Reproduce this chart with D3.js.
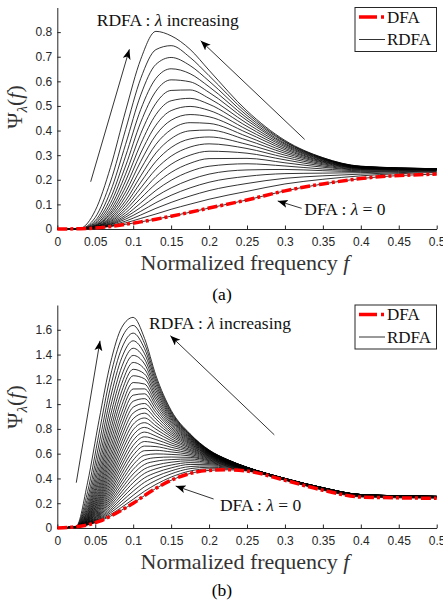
<!DOCTYPE html>
<html>
<head>
<meta charset="utf-8">
<script src="https://cdn.jsdelivr.net/npm/d3@7"></script>
<style>
body { margin: 0; background: #fff; }
</style>
</head>
<body>
<script>
// ---- Werte (a) ----
var fA = [0, 0.03, 0.05, 0.07, 0.09, 0.11, 0.13, 0.15, 0.175, 0.2, 0.25, 0.3, 0.35, 0.4, 0.5];
var dfaA = [0, 0.001, 0.004, 0.010, 0.019, 0.029, 0.040, 0.052, 0.068, 0.085, 0.118, 0.155, 0.183, 0.205, 0.223];
// RDFA, lambda steigend (unterste zuerst)
var rdfaA = [
  [0, 0.001, 0.004, 0.012, 0.025, 0.043, 0.061, 0.080, 0.101, 0.121, 0.153, 0.183, 0.202, 0.216, 0.230],
  [0, 0.001, 0.005, 0.014, 0.032, 0.057, 0.084, 0.108, 0.134, 0.156, 0.185, 0.206, 0.216, 0.223, 0.234],
  [0, 0.001, 0.005, 0.017, 0.040, 0.072, 0.107, 0.137, 0.167, 0.190, 0.214, 0.225, 0.227, 0.229, 0.236],
  [0, 0.001, 0.005, 0.019, 0.048, 0.088, 0.132, 0.167, 0.200, 0.223, 0.240, 0.242, 0.237, 0.233, 0.238],
  [0, 0.001, 0.006, 0.022, 0.056, 0.106, 0.157, 0.198, 0.234, 0.255, 0.265, 0.256, 0.244, 0.237, 0.239],
  [0, 0.001, 0.006, 0.025, 0.066, 0.125, 0.184, 0.230, 0.267, 0.286, 0.287, 0.269, 0.251, 0.240, 0.240],
  [0, 0.001, 0.007, 0.029, 0.077, 0.145, 0.213, 0.263, 0.300, 0.316, 0.308, 0.281, 0.256, 0.242, 0.241],
  [0, 0.001, 0.008, 0.033, 0.088, 0.167, 0.243, 0.296, 0.333, 0.346, 0.327, 0.291, 0.261, 0.244, 0.242],
  [0, 0.001, 0.008, 0.038, 0.101, 0.190, 0.275, 0.331, 0.366, 0.374, 0.344, 0.300, 0.265, 0.246, 0.242],
  [0, 0.001, 0.009, 0.043, 0.115, 0.216, 0.309, 0.367, 0.399, 0.402, 0.361, 0.308, 0.269, 0.247, 0.243],
  [0, 0.001, 0.010, 0.049, 0.132, 0.244, 0.344, 0.404, 0.432, 0.429, 0.376, 0.315, 0.272, 0.248, 0.243],
  [0, 0.001, 0.012, 0.057, 0.150, 0.275, 0.382, 0.442, 0.465, 0.456, 0.391, 0.322, 0.275, 0.249, 0.243],
  [0, 0.001, 0.013, 0.065, 0.171, 0.309, 0.422, 0.481, 0.498, 0.482, 0.404, 0.328, 0.277, 0.250, 0.244],
  [0, 0.001, 0.015, 0.075, 0.195, 0.346, 0.465, 0.521, 0.531, 0.507, 0.417, 0.334, 0.280, 0.251, 0.244],
  [0, 0.001, 0.018, 0.088, 0.223, 0.388, 0.511, 0.563, 0.565, 0.531, 0.429, 0.339, 0.282, 0.252, 0.244],
  [0, 0.001, 0.022, 0.104, 0.256, 0.434, 0.560, 0.606, 0.598, 0.555, 0.441, 0.344, 0.284, 0.253, 0.244],
  [0, 0.001, 0.027, 0.124, 0.296, 0.486, 0.612, 0.651, 0.631, 0.578, 0.451, 0.348, 0.286, 0.253, 0.245],
  [0, 0.002, 0.034, 0.152, 0.344, 0.545, 0.669, 0.697, 0.664, 0.601, 0.461, 0.353, 0.287, 0.254, 0.245],
  [0, 0.002, 0.047, 0.191, 0.404, 0.612, 0.729, 0.745, 0.697, 0.623, 0.471, 0.356, 0.289, 0.255, 0.245],
  [0, 0.003, 0.075, 0.250, 0.480, 0.690, 0.803, 0.785, 0.730, 0.645, 0.480, 0.360, 0.290, 0.255, 0.245]
];

// ---- Werte (b) ----
var fB = [0, 0.025, 0.04, 0.055, 0.07, 0.085, 0.1, 0.115, 0.13, 0.15, 0.175, 0.2, 0.225, 0.25, 0.3, 0.35, 0.4, 0.5];
var dfaB = [0, 0.01, 0.025, 0.053, 0.095, 0.145, 0.2, 0.262, 0.32, 0.385, 0.44, 0.465, 0.47, 0.46, 0.385, 0.305, 0.25, 0.24];
var rdfaB = [
  [0, 0.01, 0.026, 0.058, 0.108, 0.168, 0.232, 0.297, 0.352, 0.411, 0.460, 0.478, 0.478, 0.464, 0.387, 0.309, 0.255, 0.245],
  [0, 0.01, 0.028, 0.064, 0.122, 0.191, 0.264, 0.333, 0.384, 0.437, 0.479, 0.490, 0.485, 0.467, 0.389, 0.312, 0.258, 0.248],
  [0, 0.01, 0.029, 0.070, 0.136, 0.216, 0.297, 0.369, 0.416, 0.461, 0.496, 0.501, 0.491, 0.469, 0.391, 0.314, 0.261, 0.250],
  [0, 0.01, 0.030, 0.076, 0.150, 0.241, 0.331, 0.405, 0.447, 0.485, 0.513, 0.511, 0.496, 0.471, 0.392, 0.316, 0.262, 0.251],
  [0, 0.01, 0.032, 0.083, 0.166, 0.266, 0.366, 0.441, 0.478, 0.508, 0.528, 0.520, 0.501, 0.473, 0.393, 0.317, 0.263, 0.251],
  [0, 0.01, 0.033, 0.089, 0.182, 0.293, 0.401, 0.477, 0.508, 0.531, 0.543, 0.528, 0.505, 0.475, 0.394, 0.318, 0.264, 0.252],
  [0, 0.01, 0.035, 0.097, 0.199, 0.321, 0.436, 0.513, 0.539, 0.552, 0.557, 0.536, 0.509, 0.476, 0.394, 0.319, 0.265, 0.252],
  [0, 0.01, 0.037, 0.105, 0.216, 0.349, 0.473, 0.550, 0.568, 0.573, 0.570, 0.543, 0.512, 0.477, 0.395, 0.320, 0.266, 0.253],
  [0, 0.01, 0.039, 0.113, 0.235, 0.379, 0.510, 0.587, 0.598, 0.594, 0.582, 0.549, 0.516, 0.479, 0.396, 0.320, 0.266, 0.253],
  [0, 0.01, 0.041, 0.121, 0.254, 0.409, 0.548, 0.624, 0.627, 0.614, 0.594, 0.555, 0.518, 0.480, 0.396, 0.321, 0.267, 0.253],
  [0, 0.01, 0.043, 0.131, 0.275, 0.441, 0.587, 0.661, 0.657, 0.633, 0.605, 0.561, 0.521, 0.481, 0.396, 0.321, 0.267, 0.254],
  [0, 0.01, 0.046, 0.141, 0.296, 0.474, 0.626, 0.698, 0.685, 0.652, 0.616, 0.566, 0.523, 0.481, 0.397, 0.322, 0.267, 0.254],
  [0, 0.01, 0.048, 0.151, 0.319, 0.508, 0.667, 0.736, 0.714, 0.670, 0.626, 0.571, 0.526, 0.482, 0.397, 0.322, 0.268, 0.254],
  [0, 0.01, 0.051, 0.163, 0.343, 0.543, 0.708, 0.774, 0.742, 0.687, 0.635, 0.576, 0.528, 0.483, 0.397, 0.322, 0.268, 0.254],
  [0, 0.01, 0.054, 0.175, 0.368, 0.580, 0.750, 0.812, 0.770, 0.705, 0.645, 0.580, 0.530, 0.484, 0.398, 0.323, 0.268, 0.254],
  [0, 0.01, 0.058, 0.188, 0.395, 0.618, 0.793, 0.850, 0.798, 0.721, 0.653, 0.584, 0.531, 0.484, 0.398, 0.323, 0.268, 0.254],
  [0, 0.01, 0.061, 0.202, 0.423, 0.658, 0.837, 0.888, 0.825, 0.738, 0.662, 0.588, 0.533, 0.485, 0.398, 0.323, 0.268, 0.254],
  [0, 0.01, 0.066, 0.218, 0.453, 0.699, 0.882, 0.927, 0.852, 0.754, 0.670, 0.592, 0.535, 0.485, 0.398, 0.323, 0.269, 0.254],
  [0, 0.01, 0.070, 0.234, 0.485, 0.743, 0.928, 0.966, 0.879, 0.769, 0.678, 0.595, 0.536, 0.486, 0.398, 0.323, 0.269, 0.254],
  [0, 0.01, 0.075, 0.253, 0.519, 0.788, 0.975, 1.005, 0.906, 0.784, 0.685, 0.599, 0.538, 0.486, 0.399, 0.324, 0.269, 0.255],
  [0, 0.011, 0.081, 0.273, 0.556, 0.835, 1.023, 1.044, 0.932, 0.799, 0.692, 0.602, 0.539, 0.487, 0.399, 0.324, 0.269, 0.255],
  [0, 0.011, 0.088, 0.295, 0.595, 0.884, 1.072, 1.083, 0.958, 0.813, 0.699, 0.605, 0.540, 0.487, 0.399, 0.324, 0.269, 0.255],
  [0, 0.011, 0.095, 0.319, 0.637, 0.935, 1.122, 1.123, 0.984, 0.827, 0.706, 0.608, 0.541, 0.487, 0.399, 0.324, 0.269, 0.255],
  [0, 0.011, 0.104, 0.346, 0.683, 0.989, 1.174, 1.162, 1.010, 0.841, 0.712, 0.610, 0.542, 0.488, 0.399, 0.324, 0.269, 0.255],
  [0, 0.011, 0.114, 0.378, 0.733, 1.048, 1.229, 1.204, 1.036, 0.854, 0.718, 0.613, 0.543, 0.488, 0.399, 0.324, 0.269, 0.255],
  [0, 0.011, 0.126, 0.411, 0.785, 1.105, 1.281, 1.243, 1.060, 0.867, 0.724, 0.615, 0.544, 0.488, 0.399, 0.324, 0.270, 0.255],
  [0, 0.011, 0.140, 0.450, 0.842, 1.167, 1.336, 1.283, 1.085, 0.880, 0.730, 0.618, 0.545, 0.489, 0.400, 0.325, 0.270, 0.255],
  [0, 0.012, 0.157, 0.495, 0.905, 1.233, 1.393, 1.324, 1.110, 0.892, 0.735, 0.620, 0.546, 0.489, 0.400, 0.325, 0.270, 0.255],
  [0, 0.012, 0.179, 0.546, 0.974, 1.302, 1.451, 1.364, 1.134, 0.904, 0.741, 0.622, 0.547, 0.489, 0.400, 0.325, 0.270, 0.255],
  [0, 0.012, 0.207, 0.607, 1.050, 1.375, 1.511, 1.406, 1.159, 0.916, 0.746, 0.624, 0.548, 0.489, 0.400, 0.325, 0.270, 0.255],
  [0, 0.013, 0.243, 0.678, 1.133, 1.452, 1.573, 1.447, 1.183, 0.928, 0.751, 0.626, 0.549, 0.490, 0.400, 0.325, 0.270, 0.255],
  [0, 0.013, 0.294, 0.764, 1.226, 1.534, 1.635, 1.488, 1.206, 0.939, 0.755, 0.628, 0.549, 0.490, 0.400, 0.325, 0.270, 0.255],
  [0, 0.015, 0.370, 0.870, 1.330, 1.620, 1.700, 1.530, 1.230, 0.950, 0.760, 0.630, 0.550, 0.490, 0.400, 0.325, 0.270, 0.255]
];

// Achsenbeschriftung
var xTicks = [0, 0.05, 0.1, 0.15, 0.2, 0.25, 0.3, 0.35, 0.4, 0.45, 0.5];
var yTicksA = [0, 0.1, 0.2, 0.3, 0.4, 0.5, 0.6, 0.7, 0.8];
var yTicksB = [0, 0.2, 0.4, 0.6, 0.8, 1, 1.2, 1.4, 1.6];
var legendLabels = ["DFA", "RDFA"];

// Pfeile [f0, y0, f1, y1] in Datenkoordinaten
var arrowsA = [[0.044, 0.192, 0.095, 0.730], [0.326, 0.364, 0.189, 0.765], [0.322, 0.084, 0.2905, 0.114]];
var arrowsB = [[0.025, 0.366, 0.0563, 1.511], [0.286, 0.752, 0.149, 1.552], [0.206, 0.234, 0.156, 0.339]];

var serif = "'Liberation Serif','Times New Roman',serif";
var sans = "'Liberation Sans',Arial,Helvetica,sans-serif";
var axisCol = "#262626";

var svg = d3.select("body").append("svg")
  .attr("width", 443)
  .attr("height", 606);
svg.append("rect").attr("width", 443).attr("height", 606).attr("fill", "#fff");

// Pfeilspitze
svg.append("defs").append("marker")
  .attr("id", "head")
  .attr("markerUnits", "userSpaceOnUse")
  .attr("markerWidth", 12).attr("markerHeight", 10)
  .attr("refX", 10).attr("refY", 4)
  .attr("orient", "auto")
  .append("path")
  .attr("d", "M0,0 L10,4 L0,8 L2.5,4 Z")
  .attr("fill", "#000");

function panel(p) {
  var x = d3.scaleLinear().domain([0, 0.5]).range([57.3, 436.7]);
  var y = d3.scaleLinear().domain([0, p.yMax]).range([p.bottom, p.top]);
  var g = svg.append("g");

  // x Achse
  var xa = g.append("g")
    .attr("transform", "translate(0," + p.bottom + ")")
    .call(d3.axisBottom(x).tickValues(xTicks).tickFormat(d3.format("~g"))
      .tickSizeInner(-3.5).tickSizeOuter(0).tickPadding(8.5));
  // y Achse
  var ya = g.append("g")
    .attr("transform", "translate(57.3,0)")
    .call(d3.axisLeft(y).tickValues(p.yTicks).tickFormat(d3.format("~g"))
      .tickSizeInner(-3.5).tickSizeOuter(0).tickPadding(5));
  [xa, ya].forEach(function (a) {
    a.attr("font-family", sans).attr("font-size", 12);
    a.select(".domain").attr("stroke", axisCol);
    a.selectAll(".tick line").attr("stroke", axisCol);
    a.selectAll(".tick text").attr("fill", axisCol);
  });

  var line = d3.line()
    .x(function (d, i) { return x(p.f[i]); })
    .y(function (d) { return y(d); })
    .curve(d3.curveMonotoneX);

  // RDFA Kurven (lambda = 0 ist DFA)
  g.selectAll(".rdfa")
    .data([p.dfa].concat(p.rdfa))
    .join("path")
    .attr("class", "rdfa")
    .attr("d", line)
    .attr("fill", "none")
    .attr("stroke", "#000")
    .attr("stroke-width", 0.8);

  // DFA rot gestrichelt
  g.append("path")
    .datum(p.dfa)
    .attr("d", line)
    .attr("fill", "none")
    .attr("stroke", "#ff0000")
    .attr("stroke-width", 3.5)
    .attr("stroke-dasharray", "10,3,3,3");

  // Pfeile
  g.selectAll(".arrow")
    .data(p.arrows)
    .join("line")
    .attr("class", "arrow")
    .attr("x1", function (d) { return x(d[0]); })
    .attr("y1", function (d) { return y(d[1]); })
    .attr("x2", function (d) { return x(d[2]); })
    .attr("y2", function (d) { return y(d[3]); })
    .attr("stroke", "#000")
    .attr("stroke-width", 0.8)
    .attr("marker-end", "url(#head)");

  // Texte
  var t1 = g.append("text")
    .attr("x", x(p.incr[0])).attr("y", y(p.incr[1]))
    .attr("font-family", serif).attr("font-size", 17.5).attr("fill", "#111")
    .style("white-space", "pre");
  t1.append("tspan").text("RDFA : ");
  t1.append("tspan").attr("font-style", "italic").text("λ");
  t1.append("tspan").text(" increasing");

  var t2 = g.append("text")
    .attr("x", x(p.zero[0])).attr("y", y(p.zero[1]))
    .attr("font-family", serif).attr("font-size", 17.5).attr("fill", "#111")
    .style("white-space", "pre");
  t2.append("tspan").text("DFA : ");
  t2.append("tspan").attr("font-style", "italic").text("λ");
  t2.append("tspan").text(" = 0");

  // x Label
  var xl = g.append("text")
    .attr("x", 245).attr("y", p.bottom + 40.5)
    .attr("text-anchor", "middle")
    .attr("font-family", serif).attr("font-size", 22).attr("fill", "#333")
    .style("white-space", "pre");
  xl.append("tspan").text("Normalized frequency ");
  xl.append("tspan").attr("font-style", "italic").text("f");

  // y Label
  var yl = g.append("text")
    .attr("transform", "translate(22," + p.ylabelY + ") rotate(-90)")
    .attr("text-anchor", "middle")
    .attr("font-family", serif).attr("font-size", 22).attr("fill", "#333");
  yl.append("tspan").text("Ψ");
  yl.append("tspan").attr("font-style", "italic").attr("font-size", 15).attr("dy", 5).text("λ");
  yl.append("tspan").attr("dy", -5).text("(");
  yl.append("tspan").attr("font-style", "italic").text("f");
  yl.append("tspan").text(")");

  // Legende
  var lg = g.append("g").attr("transform", "translate(355," + p.top + ")");
  lg.append("rect")
    .attr("width", 81.5).attr("height", 44)
    .attr("fill", "#fff").attr("stroke", axisCol).attr("stroke-width", 1);
  lg.append("line")
    .attr("x1", 4).attr("x2", 30).attr("y1", 9.5).attr("y2", 9.5)
    .attr("stroke", "#ff0000").attr("stroke-width", 3.5).attr("stroke-dasharray", "18,4,3,4");
  lg.append("line")
    .attr("x1", 4).attr("x2", 30).attr("y1", 32).attr("y2", 32)
    .attr("stroke", "#000").attr("stroke-width", 0.8);
  lg.selectAll(".lt")
    .data(legendLabels)
    .join("text")
    .attr("class", "lt")
    .attr("x", 32)
    .attr("y", function (d, i) { return i === 0 ? 15 : 37.5; })
    .attr("font-family", serif).attr("font-size", 17).attr("fill", "#111")
    .text(function (d) { return d; });

  // Untertitel
  g.append("text")
    .attr("x", 222).attr("y", p.captionY)
    .attr("text-anchor", "middle")
    .attr("font-family", serif).attr("font-size", 17.5).attr("fill", "#000")
    .text(p.caption);
}

panel({
  f: fA, dfa: dfaA, rdfa: rdfaA, yMax: 0.9, yTicks: yTicksA,
  top: 7.5, bottom: 229, ylabelY: 107, captionY: 300, caption: "(a)",
  incr: [0.052, 0.823], zero: [0.3255, 0.057], arrows: arrowsA
});
panel({
  f: fB, dfa: dfaB, rdfa: rdfaB, yMax: 1.8, yTicks: yTicksB,
  top: 305, bottom: 528, ylabelY: 407, captionY: 596, caption: "(b)",
  incr: [0.121, 1.606], zero: [0.2144, 0.14], arrows: arrowsB
});
</script>
</body>
</html>
